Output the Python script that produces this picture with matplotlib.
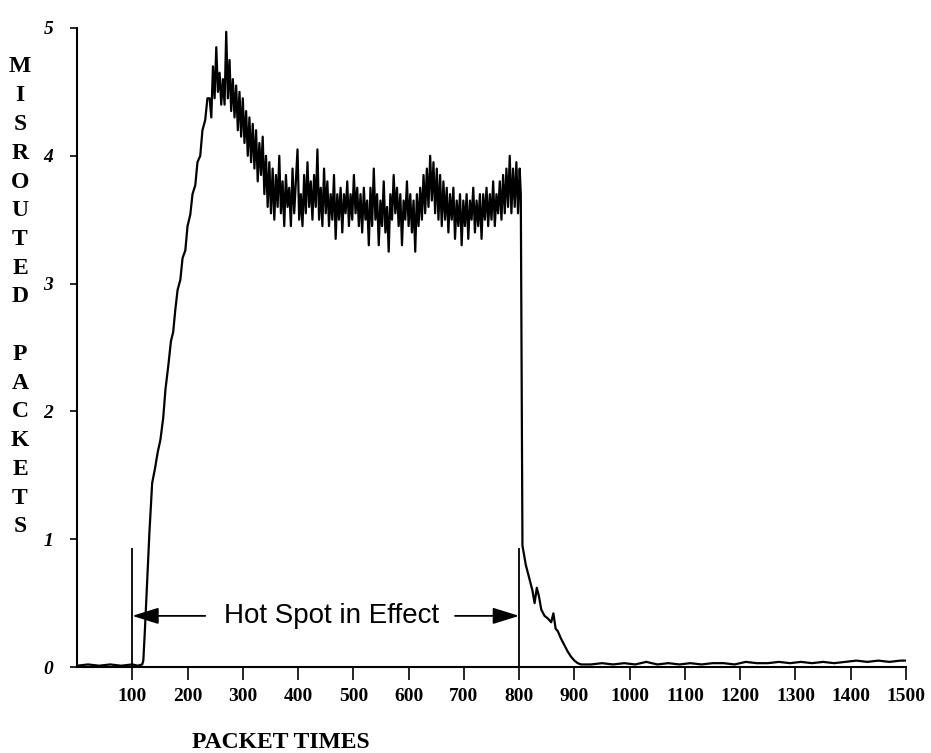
import matplotlib

matplotlib.use("Agg")
import matplotlib.pyplot as plt

# misrouted packets vs packet time
quiet_x = [0, 20, 40, 60, 80, 100, 110, 118]
quiet_y = [0.01, 0.02, 0.01, 0.02, 0.01, 0.02, 0.01, 0.02]

rise_x = [120, 123, 127, 131, 136, 141, 146, 151, 156, 160, 165, 170, 174,
          178, 182, 187, 191, 196, 200, 205, 209, 214, 218, 223, 227, 232, 236]
rise_y = [0.05, 0.3, 0.68, 1.05, 1.44, 1.55, 1.68, 1.78, 1.95, 2.17, 2.35, 2.55,
          2.62, 2.8, 2.95, 3.03, 3.2, 3.26, 3.45, 3.54, 3.7, 3.77, 3.95, 4.0,
          4.2, 4.28, 4.45]

# noisy section sampled every 3 packet times
peak_x = list(range(240, 300, 3))
peak_y = [4.45, 4.3, 4.7, 4.45, 4.85, 4.5, 4.65, 4.4, 4.6, 4.4,
          4.97, 4.45, 4.75, 4.35, 4.6, 4.3, 4.55, 4.2, 4.5, 4.15]

plateau_x = list(range(300, 802, 3)) + [803]
plateau_y = [4.45, 4.1, 4.35, 4.0, 4.3, 3.95, 4.25, 3.9, 4.2, 3.8,
             4.1, 3.85, 4.15, 3.7, 4.0, 3.6, 3.95, 3.55, 3.9, 3.5,
             3.85, 3.6, 4.0, 3.55, 3.8, 3.45, 3.85, 3.6, 3.75, 3.45,
             3.9, 3.55, 3.8, 4.05, 3.5, 3.7, 3.45, 3.85, 3.55, 3.95,
             3.6, 3.8, 3.5, 3.85, 3.6, 4.05, 3.5, 3.75, 3.45, 3.9,
             3.55, 3.8, 3.45, 3.7, 3.5, 3.85, 3.35, 3.7, 3.5, 3.75,
             3.4, 3.7, 3.55, 3.8, 3.45, 3.7, 3.5, 3.85, 3.55, 3.75,
             3.45, 3.7, 3.4, 3.75, 3.5, 3.65, 3.3, 3.75, 3.45, 3.9,
             3.5, 3.7, 3.3, 3.65, 3.45, 3.8, 3.4, 3.6, 3.25, 3.7,
             3.5, 3.85, 3.55, 3.75, 3.45, 3.7, 3.3, 3.65, 3.5, 3.8,
             3.45, 3.7, 3.4, 3.65, 3.25, 3.7, 3.45, 3.75, 3.5, 3.85,
             3.55, 3.9, 3.6, 4.0, 3.65, 3.95, 3.55, 3.9, 3.5, 3.85,
             3.45, 3.8, 3.5, 3.75, 3.4, 3.7, 3.5, 3.75, 3.35, 3.65,
             3.45, 3.7, 3.3, 3.65, 3.45, 3.7, 3.35, 3.65, 3.5, 3.75,
             3.4, 3.65, 3.45, 3.7, 3.35, 3.7, 3.5, 3.75, 3.45, 3.7,
             3.5, 3.8, 3.45, 3.7, 3.55, 3.8, 3.5, 3.85, 3.55, 3.9,
             3.6, 4.0, 3.55, 3.9, 3.6, 3.95, 3.55, 3.9,
             3.7]

tail_x = [806, 812, 818, 824, 828, 832, 836, 840, 846, 852, 858, 862, 866, 870,
          876, 882, 888, 894, 900, 906, 912]
tail_y = [0.95, 0.8, 0.7, 0.6, 0.5, 0.62, 0.55, 0.45, 0.4, 0.38, 0.35, 0.42,
          0.3, 0.28, 0.22, 0.17, 0.12, 0.08, 0.05, 0.03, 0.02]

base_x = [930, 950, 970, 990, 1010, 1030, 1050, 1070, 1090, 1110, 1130, 1150,
          1170, 1190, 1210, 1230, 1250, 1270, 1290, 1310, 1330, 1350, 1370,
          1390, 1410, 1430, 1450, 1470, 1490, 1500]
base_y = [0.02, 0.03, 0.02, 0.03, 0.02, 0.04, 0.02, 0.03, 0.02, 0.03, 0.02,
          0.03, 0.03, 0.02, 0.04, 0.03, 0.03, 0.04, 0.03, 0.04, 0.03, 0.04,
          0.03, 0.04, 0.05, 0.04, 0.05, 0.04, 0.05, 0.05]

assert len(peak_x) == len(peak_y) and len(plateau_x) == len(plateau_y)
x_vals = quiet_x + rise_x + peak_x + plateau_x + tail_x + base_x
y_vals = quiet_y + rise_y + peak_y + plateau_y + tail_y + base_y

x_ticks = list(range(100, 1600, 100))
y_ticks = [0, 1, 2, 3, 4, 5]
hot_start, hot_end = 100, 800
marker_top = 0.93
arrow_y = 0.4

W, H = 931, 753
fig = plt.figure(figsize=(W / 100, H / 100), dpi=100)
ax = fig.add_axes([77 / W, 1 - 667 / H, (906 - 77) / W, (667 - 28) / H])

ax.plot(x_vals, y_vals, color="black", linewidth=1.6)
ax.vlines([hot_start, hot_end], 0, marker_top, color="black", linewidth=1.3)

ax.text(460, arrow_y, "Hot Spot in Effect", ha="center", va="center",
        fontsize=20, family="Liberation Sans")
arrow = dict(arrowstyle="-|>,head_length=0.9,head_width=0.28", color="black",
             linewidth=1.3, shrinkA=0, shrinkB=0, mutation_scale=18)
ax.annotate("", xy=(hot_start, arrow_y), xytext=(232, arrow_y), arrowprops=arrow)
ax.annotate("", xy=(hot_end, arrow_y), xytext=(684, arrow_y), arrowprops=arrow)

ax.set_xlim(0, 1500)
ax.set_ylim(0, 5)
for side in ("top", "right"):
    ax.spines[side].set_visible(False)
for side in ("left", "bottom"):
    ax.spines[side].set_linewidth(1.5)

ax.set_xticks(x_ticks)
ax.set_xticklabels([str(t) for t in x_ticks], family="Liberation Serif",
                   fontweight="bold", fontsize=14)
ax.set_yticks(y_ticks)
ax.set_yticklabels([str(t) for t in y_ticks], family="Liberation Serif",
                   fontweight="bold", style="italic", fontsize=14)
ax.tick_params(axis="x", length=9, width=1.2, pad=6)
ax.tick_params(axis="y", length=5, width=1.2, pad=12)

# stacked vertical axis label, one letter per line
label = "MISROUTED PACKETS"
top_px, bottom_px = 67, 527
step = (bottom_px - top_px) / (len(label) - 1)
for i, ch in enumerate(label):
    fig.text(20 / W, 1 - (top_px + i * step) / H, ch, ha="center", va="center",
             family="Liberation Serif", fontweight="bold", fontsize=17)

fig.text(281 / W, 1 - 742 / H, "PACKET TIMES", ha="center", va="center",
         family="Liberation Serif", fontweight="bold", fontsize=17)

fig.savefig("out.png", dpi=100)
